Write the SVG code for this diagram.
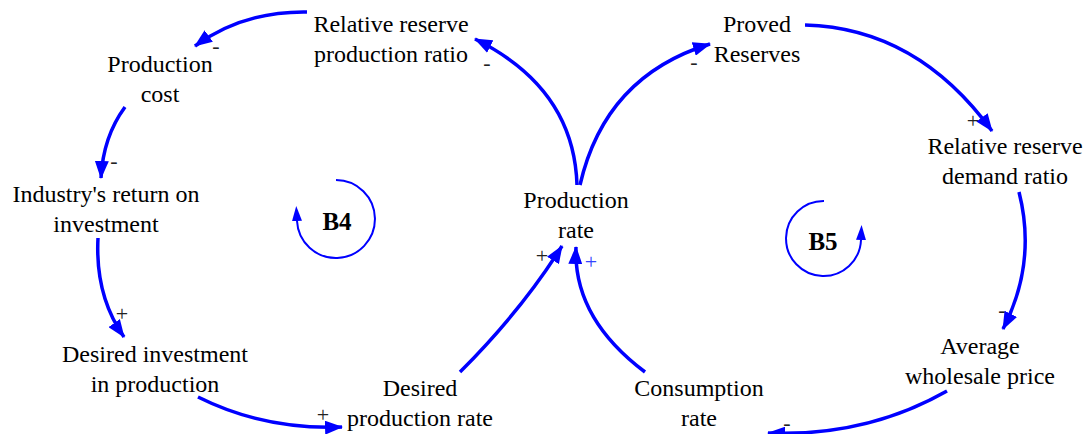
<svg xmlns="http://www.w3.org/2000/svg" width="1091" height="434" viewBox="0 0 1091 434">
<style>
text{font-family:'Liberation Serif',serif}
.lbl{font-size:24px;fill:#000;text-anchor:middle}
.loop{font-size:25px;font-weight:bold;fill:#000;text-anchor:middle}
.sgn{font-size:22px;fill:#222;text-anchor:middle}
.sgnb{font-size:22px;fill:#3344ff;text-anchor:middle}
.link{fill:none;stroke:#0000ff;stroke-width:3.5;marker-end:url(#ah)}
.ring{fill:none;stroke:#0000ff;stroke-width:2;marker-end:url(#lh)}
</style>
<defs>
<marker id="ah" markerUnits="userSpaceOnUse" markerWidth="18" markerHeight="14" refX="17" refY="7" orient="auto">
<path d="M0,0 L18,7 L0,14 z" fill="#0000ff"/>
</marker>
<marker id="lh" markerUnits="userSpaceOnUse" markerWidth="15" markerHeight="10" refX="0" refY="5" orient="auto">
<path d="M0,0 L15,5 L0,10 z" fill="#0000ff"/>
</marker>
</defs>
<rect width="1091" height="434" fill="#fff"/>

<g id="connectors" font-family="Liberation Serif, serif">
<path class="link" d="M307,12 Q243,11 195,46"/>
<path class="link" d="M125,107 Q103,137 101,178"/>
<path class="link" d="M98,238 Q95,296 124,337"/>
<path class="link" d="M198,397 Q264,430 342,427"/>
<path class="link" d="M460,372 Q522,310 562,246"/>
<path class="link" d="M645,372 Q573,318 576,247"/>
<path class="link" d="M577,185 Q574,88 475,39"/>
<path class="link" d="M580,185 Q605,76 710,44"/>
<path class="link" d="M805,25 Q917,28 992,131"/>
<path class="link" d="M1019,192 Q1037,263 1003,329"/>
<path class="link" d="M947,391 Q866,437 768,433"/>
<text class="sgn" x="216" y="53">-</text>
<text class="sgn" x="487" y="70">-</text>
<text class="sgn" x="694" y="69">-</text>
<text class="sgn" x="973" y="128">+</text>
<text class="sgn" x="114" y="168">-</text>
<text class="sgn" x="122" y="321">+</text>
<text class="sgn" x="323" y="422">+</text>
<text class="sgn" x="542" y="263">+</text>
<text class="sgnb" x="591" y="269">+</text>
<text class="sgn" x="1002" y="317">-</text>
<text class="sgn" x="787" y="430">-</text>
</g>

<g id="loop-b4" font-family="Liberation Serif, serif">
<path class="ring" d="M336,180 A39,39 0 1 1 297,221"/>
<text class="loop" x="337" y="230">B4</text>
</g>
<g id="loop-b5" font-family="Liberation Serif, serif">
<path class="ring" d="M824,201 A37.5,37.5 0 1 0 861,240"/>
<text class="loop" x="823" y="250">B5</text>
</g>

<g id="n-rrpr" font-family="Liberation Serif, serif"><text class="lbl" x="391" y="32">Relative reserve</text><text class="lbl" x="391" y="62">production ratio</text></g>
<g id="n-pc" font-family="Liberation Serif, serif"><text class="lbl" x="160" y="72">Production</text><text class="lbl" x="160" y="102">cost</text></g>
<g id="n-iroi" font-family="Liberation Serif, serif"><text class="lbl" x="106" y="202">Industry's return on</text><text class="lbl" x="106" y="232">investment</text></g>
<g id="n-dip" font-family="Liberation Serif, serif"><text class="lbl" x="155" y="362">Desired investment</text><text class="lbl" x="155" y="392">in production</text></g>
<g id="n-dpr" font-family="Liberation Serif, serif"><text class="lbl" x="420" y="396">Desired</text><text class="lbl" x="420" y="426">production rate</text></g>
<g id="n-pr" font-family="Liberation Serif, serif"><text class="lbl" x="576" y="208">Production</text><text class="lbl" x="576" y="238">rate</text></g>
<g id="n-proved" font-family="Liberation Serif, serif"><text class="lbl" x="757" y="32">Proved</text><text class="lbl" x="757" y="62">Reserves</text></g>
<g id="n-rrdr" font-family="Liberation Serif, serif"><text class="lbl" x="1005" y="154">Relative reserve</text><text class="lbl" x="1005" y="184">demand ratio</text></g>
<g id="n-awp" font-family="Liberation Serif, serif"><text class="lbl" x="980" y="354">Average</text><text class="lbl" x="980" y="384">wholesale price</text></g>
<g id="n-cr" font-family="Liberation Serif, serif"><text class="lbl" x="699" y="396">Consumption</text><text class="lbl" x="699" y="426">rate</text></g>
</svg>
